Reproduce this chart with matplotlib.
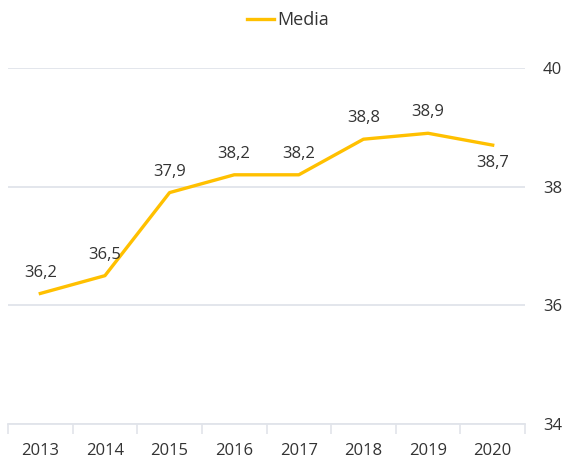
import matplotlib
matplotlib.use("Agg")
import matplotlib.pyplot as plt

# values
years = ["2013", "2014", "2015", "2016", "2017", "2018", "2019", "2020"]
media = [36.2, 36.5, 37.9, 38.2, 38.2, 38.8, 38.9, 38.7]
y_ticks = [34, 36, 38, 40]

plt.rcParams['font.family'] = ['Open Sans', 'DejaVu Sans']

fig = plt.figure(figsize=(5.68, 4.59), dpi=100)
ax = fig.add_axes([8 / 568, 35 / 459, 517 / 568, 356 / 459])

x = list(range(len(years)))
ax.plot(x, media, color="#FFC000", lw=2.4, label="Media")

for i, v in enumerate(media):
    label = f"{v:.1f}".replace(".", ",")
    if i == len(media) - 1:
        ax.annotate(label, (i, v), xytext=(0, -13), textcoords="offset points",
                    ha="center", va="center", fontsize=12, color="#333333")
    else:
        ax.annotate(label, (i, v), xytext=(0, 15), textcoords="offset points",
                    ha="center", va="center", fontsize=12, color="#333333")

ax.set_xlim(-0.5, len(years) - 0.5)
ax.set_ylim(34, 40)
ax.set_yticks(y_ticks)
ax.set_yticklabels([str(t) for t in y_ticks])
ax.yaxis.tick_right()
ax.tick_params(axis="y", length=0, pad=13, labelsize=12, labelcolor="#333333")
ax.grid(axis="y", color="#e1e4ea", lw=1.3)
ax.set_axisbelow(True)

ax.set_xticks(x)
ax.set_xticklabels(years)
ax.set_xticks([i - 0.5 for i in range(len(years) + 1)], minor=True)
ax.tick_params(axis="x", which="major", length=0, pad=14, labelsize=12, labelcolor="#333333")
ax.tick_params(axis="x", which="minor", length=7, color="#e1e4ea", width=1.2)

for s in ["top", "left", "right"]:
    ax.spines[s].set_visible(False)
ax.spines["bottom"].set_color("#e1e4ea")
ax.spines["bottom"].set_linewidth(1.3)

fig.legend(loc="center", bbox_to_anchor=(288 / 568, 1 - 20 / 459), frameon=False,
           fontsize=13, handlelength=1.5, handletextpad=0.15, labelcolor="#333333")

fig.savefig("out.png", dpi=100)
